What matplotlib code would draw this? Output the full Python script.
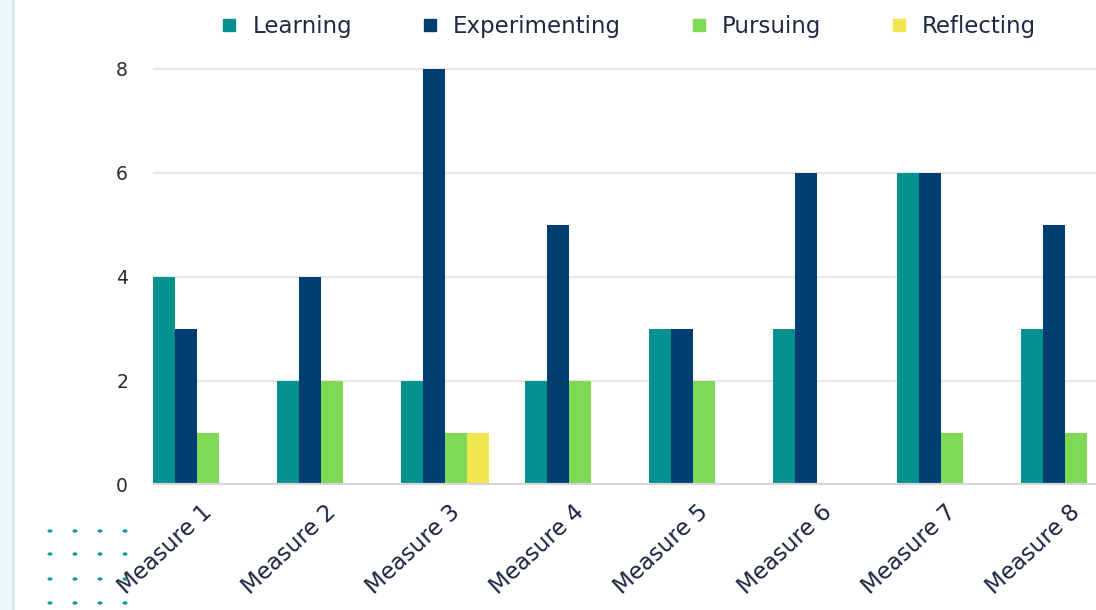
import numpy as np
import matplotlib.pyplot as plt
from matplotlib.lines import Line2D
from matplotlib.patches import Rectangle
from matplotlib.transforms import ScaledTranslation

plt.rcParams['font.family'] = ['DejaVu Sans']

categories = ['Measure 1', 'Measure 2', 'Measure 3', 'Measure 4',
              'Measure 5', 'Measure 6', 'Measure 7', 'Measure 8']
series = ['Learning', 'Experimenting', 'Pursuing', 'Reflecting']
learning = [4, 2, 2, 2, 3, 3, 6, 3]
experimenting = [3, 4, 8, 5, 3, 6, 6, 5]
pursuing = [1, 2, 1, 2, 2, 0, 1, 1]
reflecting = [0, 0, 1, 0, 0, 0, 0, 0]
colors = ['#03918f', '#023e71', '#7fd856', '#f2e64f']

fig = plt.figure(figsize=(10.96, 6.10), dpi=100)

# page background strip on the left
fig.patches.append(Rectangle((0, 0), 12 / 1096, 1, transform=fig.transFigure,
                             color='#eef6fd', zorder=0))
fig.patches.append(Rectangle((12 / 1096, 0), 2 / 1096, 1, transform=fig.transFigure,
                             color='#dfe7ef', zorder=0))

# decorative dot grid
for dx in [50, 75, 100, 125]:
    for dy in [531, 554, 579, 603]:
        fig.patches.append(plt.Circle((dx / 1096, 1 - dy / 610), 1.8 / 1096,
                                      transform=fig.transFigure, color='#1a9a98',
                                      zorder=1))

w = 22 / 124
ax = fig.add_axes([153 / 1096, 125 / 610, 1 - 153 / 1096, (485 - 66) / 610])
x = np.arange(len(categories))
for k, vals in enumerate([learning, experimenting, pursuing, reflecting]):
    ax.bar(x - 2 * w + (k + 0.5) * w, vals, width=w * 0.96, color=colors[k],
           edgecolor='none', zorder=3)

ax.set_xlim(-2 * w, -2 * w + 943 / 124)
ax.set_ylim(0, 8 * 419 / 416)
ax.set_yticks([0, 2, 4, 6, 8])
ax.grid(axis='y', color='#e8e8e8', linewidth=1.6, zorder=0)
ax.axhline(0, color='#d4d6d8', linewidth=3, zorder=4)
for s in ax.spines.values():
    s.set_visible(False)
ax.tick_params(axis='both', length=0, labelsize=13.5, colors='#2b2b2b')
ax.tick_params(axis='y', pad=18)
ax.set_xticks(x)
ax.set_xticklabels(categories, rotation=43, ha='right', va='center',
                   rotation_mode='anchor', fontsize=16.5, color='#1c2540')
off = ScaledTranslation(12 / 100, -19 / 100, fig.dpi_scale_trans)
for lab in ax.get_xticklabels():
    lab.set_transform(lab.get_transform() + off)

handles = [Line2D([], [], marker='s', linestyle='none', markersize=8,
                  color=c) for c in colors]
fig.legend(handles, series, loc='center', bbox_to_anchor=(627 / 1096, 1 - 27 / 610),
           ncol=4, frameon=False, fontsize=16.5, handletextpad=0.5,
           columnspacing=2.9, handlelength=1.0, labelcolor='#1f2942')

fig.savefig('out.png', dpi=100)
